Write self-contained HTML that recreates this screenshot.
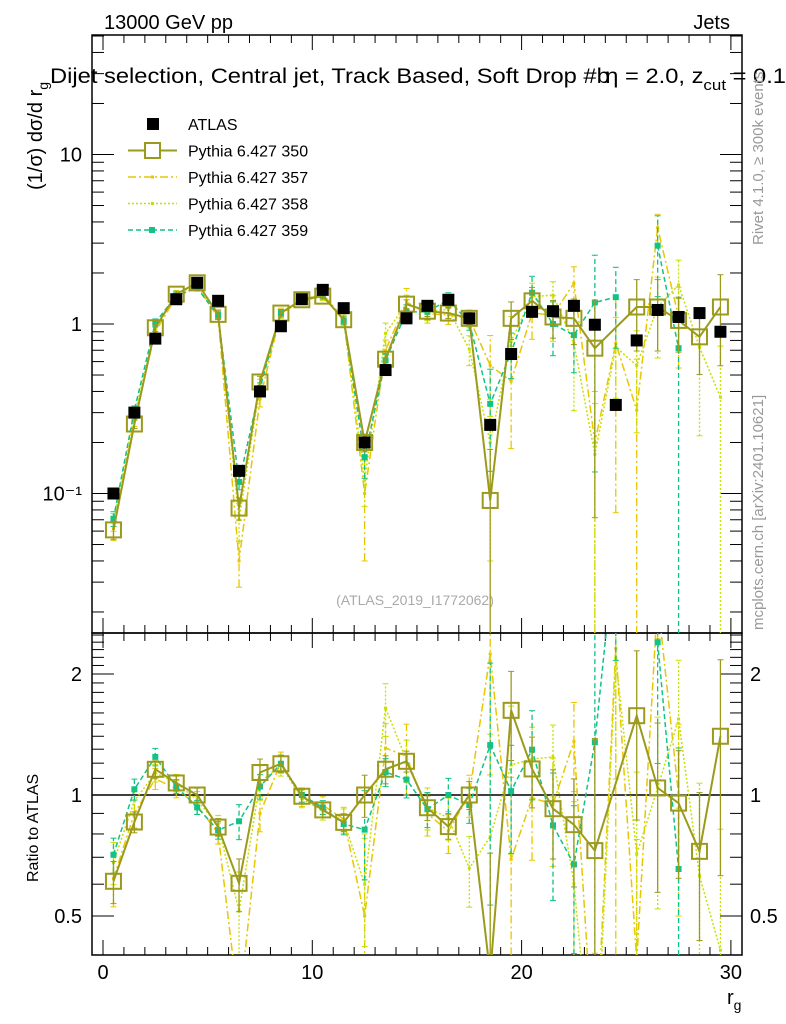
<!DOCTYPE html>
<html><head><meta charset="utf-8"><style>
html,body{margin:0;padding:0;background:#fff;width:786px;height:1024px;overflow:hidden;}
svg{display:block;font-family:"Liberation Sans",sans-serif;}
</style></head><body>
<svg id="chart" width="786" height="1024" viewBox="0 0 786 1024" xmlns="http://www.w3.org/2000/svg">
<defs>
<clipPath id="cm"><rect x="92" y="35" width="650" height="598"/></clipPath>
<clipPath id="cr"><rect x="92" y="633" width="650" height="322"/></clipPath>
</defs>
<rect x="0" y="0" width="786" height="1024" fill="#fff"/>
<text x="104" y="29" font-size="20">13000 GeV pp</text>
<text x="730" y="29" font-size="20" text-anchor="end">Jets</text>
<text x="50" y="83" font-size="21" textLength="736" lengthAdjust="spacingAndGlyphs">Dijet selection, Central jet, Track Based, Soft Drop #b<tspan dx="-4">η</tspan> = 2.0, z<tspan font-size="15" dy="7">cut</tspan><tspan dy="-7"> = 0.1</tspan></text>
<text transform="translate(42,190) rotate(-90)" font-size="20">(1/σ) dσ/d r<tspan font-size="14" dy="6">g</tspan></text>
<text transform="translate(38,882) rotate(-90)" font-size="16">Ratio to ATLAS</text>
<text x="727" y="1004" font-size="20">r<tspan font-size="14" dy="6">g</tspan></text>
<text transform="translate(763,245) rotate(-90)" font-size="15" fill="#999">Rivet 4.1.0, ≥ 300k events</text>
<text transform="translate(763,630) rotate(-90)" font-size="15" fill="#999">mcplots.cern.ch [arXiv:2401.10621]</text>
<text x="415" y="605" font-size="14" fill="#aaa" text-anchor="middle">(ATLAS_2019_I1772062)</text>
<g id="axes"></g>
<g id="marks"></g>
<g id="legend"></g>
</svg>
<script>
const bins = [0.5,1.5,2.5,3.5,4.5,5.5,6.5,7.5,8.5,9.5,10.5,11.5,12.5,13.5,14.5,15.5,16.5,17.5,18.5,19.5,20.5,21.5,22.5,23.5,24.5,25.5,26.5,27.5,28.5,29.5];
const atlas = [0.1,0.30,0.82,1.40,1.75,1.37,0.136,0.40,0.97,1.40,1.59,1.24,0.20,0.535,1.08,1.28,1.39,1.08,0.254,0.665,1.18,1.19,1.28,0.99,0.333,0.80,1.21,1.10,1.16,0.90];
const py350 = [0.061,0.257,0.95,1.50,1.75,1.14,0.082,0.455,1.16,1.39,1.46,1.06,0.20,0.62,1.31,1.19,1.16,1.08,0.091,1.08,1.37,1.10,1.08,0.72,null,1.26,1.26,1.05,0.84,1.26];
const err350 = [0.12,0.06,0.05,0.04,0.04,0.05,0.15,0.08,0.05,0.04,0.04,0.05,0.12,0.08,0.06,0.07,0.07,0.08,1.0,0.25,0.2,0.25,0.3,0.9,0,0.45,0.45,0.35,0.4,0.55];
const py357 = [0.062,0.27,0.9,1.45,1.65,1.1,0.04,0.36,1.17,1.38,1.5,1.08,0.1,0.7,1.35,1.15,1.13,1.08,0.57,0.46,1.16,1.13,1.74,0.2,0.77,0.31,3.7,1.1,null,null];
const err357 = [0.15,0.08,0.06,0.05,0.05,0.06,0.3,0.1,0.06,0.05,0.05,0.07,0.6,0.15,0.2,0.12,0.12,0.12,0.5,0.6,0.3,0.3,0.25,1.0,0.9,1.0,0.2,0.5,0,0];
const py358 = [0.068,0.29,0.93,1.5,1.7,1.15,0.07,0.43,1.15,1.37,1.45,1.07,0.12,0.88,1.32,1.19,1.22,0.71,0.2,0.79,1.45,1.48,0.77,0.17,0.73,0.57,1.26,1.7,0.73,0.37];
const err358 = [0.12,0.07,0.05,0.05,0.05,0.06,0.25,0.1,0.06,0.05,0.05,0.07,0.3,0.15,0.12,0.12,0.12,0.2,0.8,0.4,0.2,0.2,0.6,1.0,0.5,0.6,0.5,0.4,0.7,1.0];
const py359 = [0.071,0.31,1.02,1.47,1.63,1.12,0.117,0.42,1.16,1.40,1.48,1.05,0.164,0.61,1.18,1.18,1.39,1.02,0.338,0.68,1.53,1.0,0.86,1.34,1.44,null,2.9,0.72,null,null];
const err359 = [0.1,0.06,0.05,0.04,0.04,0.05,0.1,0.07,0.05,0.04,0.04,0.06,0.25,0.08,0.1,0.1,0.1,0.1,0.6,0.3,0.25,0.35,0.4,0.9,0.5,0,0.5,1.0,0,0];
const yMainTicks = [10,1,0.1];
const yMainTickLabels = ["10","1","10⁻¹"];
const yRatioTicks = [0.5,1,2];
const yRatioTickLabels = ["0.5","1","2"];
const xTicks = [0,10,20,30];
const xTickLabels = ["0","10","20","30"];

const NS="http://www.w3.org/2000/svg";
const X0=92,X1=742,MT=35,MB=633,RT=633,RB=955;
function xS(v){return 103+v*20.93;}
function yM(v){return 324-169.5*Math.log10(v);}
function yR(v){return 795-402*Math.log10(v);}
function mk(tag,attrs,parent){const e=document.createElementNS(NS,tag);for(const k in attrs)e.setAttribute(k,attrs[k]);parent.appendChild(e);return e;}
const axes=document.getElementById('axes'),marks=document.getElementById('marks'),leg=document.getElementById('legend');

let f1=mk('rect',{x:X0,y:MT,width:X1-X0,height:MB-MT,fill:'none',stroke:'#000','stroke-width':1.5},axes);


let f2=mk('rect',{x:X0,y:RT,width:X1-X0,height:RB-RT,fill:'none',stroke:'#000','stroke-width':1.5},axes);



for(let v=0;v<=30;v++){
  const x=xS(v),maj=(v%10===0),l=maj?15:8;
  for(const [t,b] of [[MT,MB],[RT,RB]]){
    mk('line',{x1:x,x2:x,y1:b,y2:b-l,stroke:'#000'},axes);
    mk('line',{x1:x,x2:x,y1:t,y2:t+l,stroke:'#000'},axes);
  }
}
xTicks.forEach((v,i)=>{
  const t=mk('text',{x:xS(v),y:979,'font-size':20,'text-anchor':'middle'},axes);
  t.textContent=xTickLabels[i];
  
  
});
for(let d=-2;d<=1;d++){for(let m=1;m<=9;m++){
  const v=m*Math.pow(10,d),y=yM(v);
  if(y<MT||y>MB)continue;
  const l=(m===1)?22:12;
  mk('line',{x1:X0,x2:X0+l,y1:y,y2:y,stroke:'#000'},axes);
  mk('line',{x1:X1,x2:X1-l,y1:y,y2:y,stroke:'#000'},axes);
}}
yMainTicks.forEach((v,i)=>{
  const t=mk('text',{x:82,y:yM(v)+7,'font-size':20,'text-anchor':'end'},axes);
  t.textContent=yMainTickLabels[i];
  
  
});
for(let k=4;k<=25;k++){
  const v=k/10,y=yR(v);
  if(y<RT||y>RB)continue;
  const maj=(k===5||k===10||k===20),l=maj?22:12;
  mk('line',{x1:X0,x2:X0+l,y1:y,y2:y,stroke:'#000'},axes);
  mk('line',{x1:X1,x2:X1-l,y1:y,y2:y,stroke:'#000'},axes);
}
yRatioTicks.forEach((v,i)=>{
  const t=mk('text',{x:82,y:yR(v)+7,'font-size':20,'text-anchor':'end'},axes);
  t.textContent=yRatioTickLabels[i];
  
  
  const t2=mk('text',{x:750,y:yR(v)+7,'font-size':20},axes);
  t2.textContent=yRatioTickLabels[i];
  
  
});
let ref=mk('line',{x1:X0,x2:X1,y1:yR(1),y2:yR(1),stroke:'#000','stroke-width':1.5},axes);



const gm=mk('g',{'clip-path':'url(#cm)'},marks);
const gr=mk('g',{'clip-path':'url(#cr)'},marks);

function drawSeries(name,vals,errs,color,dash,mtype,msize,width){
  for(const [g,ys,isR] of [[gm,yM,false],[gr,yR,true]]){
    const grp=mk('g',{},g);
    
    
    const pts=[];
    bins.forEach((b,i)=>{
      const v=vals[i]; if(v==null){return;}
      const val=isR?v/atlas[i]:v;
      const x=xS(b),y=ys(val);
      pts.push([x,y]);
      const e=errs[i]*val;
      const lo=Math.max(val-e,1e-4),hi=val+e;
      mk('line',{x1:x,x2:x,y1:ys(lo),y2:ys(hi),stroke:color,'stroke-width':1.3,'stroke-dasharray':dash},grp);
      mk('line',{x1:x-3,x2:x+3,y1:ys(hi),y2:ys(hi),stroke:color},grp);
      if(lo>1e-4)mk('line',{x1:x-3,x2:x+3,y1:ys(lo),y2:ys(lo),stroke:color},grp);
    });
    let seg=[];const segs=[];
    bins.forEach((b,i)=>{const v=vals[i];
      if(v==null){ if(i===24&&name==='pythia-350'){return;} if(seg.length)segs.push(seg);seg=[];return;}
      const val=isR?v/atlas[i]:v; seg.push([xS(b),ys(val)]);});
    if(seg.length)segs.push(seg);
    segs.forEach(s=>{mk('polyline',{points:s.map(p=>p.join(',')).join(' '),fill:'none',stroke:color,'stroke-width':width,'stroke-dasharray':dash},grp);});
    pts.forEach(([x,y])=>{
      if(mtype==='open')mk('rect',{x:x-msize/2,y:y-msize/2,width:msize,height:msize,fill:'#fff','fill-opacity':0,stroke:color,'stroke-width':2},grp);
      else mk('rect',{x:x-msize/2,y:y-msize/2,width:msize,height:msize,fill:color},grp);
    });
  }
}
const C350='#9c9a1c',C357='#e8c600',C358='#c6e000',C359='#12c286';
drawSeries('pythia-357',py357,err357,C357,'8,3,2,3','fill',3,1.5);
drawSeries('pythia-358',py358,err358,C358,'2,2','fill',3,1.5);
drawSeries('pythia-359',py359,err359,C359,'5,3','fill',6,1.5);
drawSeries('pythia-350',py350,err350,C350,'','open',15,2);
const ga=mk('g',{'clip-path':'url(#cm)'},marks);


bins.forEach((b,i)=>{
  const r=mk('rect',{x:xS(b)-6,y:yM(atlas[i])-6,width:12,height:12,fill:'#000'},ga);
  
  
});

const L=[['ATLAS','#000','','atlas'],['Pythia 6.427 350',C350,'','open'],['Pythia 6.427 357',C357,'8,3,2,3','small'],['Pythia 6.427 358',C358,'2,2','small'],['Pythia 6.427 359',C359,'5,3','fill']];
L.forEach((e,i)=>{
  const y=124+i*26.5;
  const g=mk('g',{},leg);
  
  
  if(e[3]==='atlas'){mk('rect',{x:147,y:y-6,width:12,height:12,fill:'#000'},g);}
  else{
    mk('line',{x1:128,x2:177,y1:y,y2:y,stroke:e[1],'stroke-width':e[3]==='open'?2:1.5,'stroke-dasharray':e[2]},g);
    if(e[3]==='open')mk('rect',{x:145,y:y-7.5,width:15,height:15,fill:'#fff',stroke:e[1],'stroke-width':2},g);
    else if(e[3]==='fill')mk('rect',{x:149,y:y-3,width:6,height:6,fill:e[1]},g);
    else mk('rect',{x:151,y:y-1.5,width:3,height:3,fill:e[1]},g);
  }
  const t=mk('text',{x:188,y:y+6,'font-size':16},g);
  t.textContent=e[0];
});
</script>
</body></html>
